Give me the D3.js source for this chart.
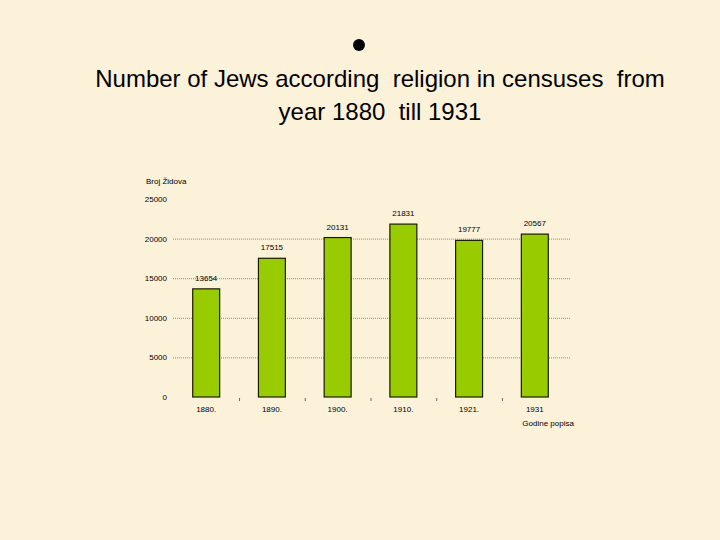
<!DOCTYPE html>
<html>
<head>
<meta charset="utf-8">
<script src="https://cdn.jsdelivr.net/npm/d3@7"></script>
<style>
  body { margin: 0; background: #fcf1d9; }
  svg { display: block; }
</style>
</head>
<body>
<div id="chart"></div>
<script>
var years = ["1880.", "1890.", "1900.", "1910.", "1921.", "1931"];
var jews = [13654, 17515, 20131, 21831, 19777, 20567];
var yTicks = [0, 5000, 10000, 15000, 20000, 25000];

var W = 720, H = 540;
var margin = { top: 199, left: 173, right: 152, bottom: 143 },
    width = W - margin.left - margin.right,
    height = H - margin.top - margin.bottom;

var svg = d3.select("#chart")
    .append("svg")
    .attr("width", W)
    .attr("height", H);

// parchment background
svg.append("rect")
    .attr("width", W).attr("height", H)
    .attr("fill", "#fcf1d9");

// bullet + title
svg.append("circle")
    .attr("cx", 359).attr("cy", 45).attr("r", 6)
    .attr("fill", "#000");

var title = svg.append("text")
    .attr("text-anchor", "middle")
    .style("font-family", "Liberation Sans, Arial, sans-serif")
    .style("font-size", "24px")
    .attr("fill", "#000");
title.append("tspan").attr("x", 380).attr("y", 87)
    .attr("xml:space", "preserve")
    .text("Number of Jews according  religion in censuses  from");
title.append("tspan").attr("x", 380).attr("y", 120)
    .attr("xml:space", "preserve")
    .text("year 1880  till 1931");

var g = svg.append("g")
    .attr("transform", "translate(" + margin.left + "," + margin.top + ")");

var x = d3.scaleBand()
    .domain(years)
    .range([0, width])
    .paddingInner(0.59)
    .paddingOuter(0.3);

var y = d3.scaleLinear()
    .domain([0, 25000])
    .range([height, 0]);

// dotted gridlines
g.selectAll(".grid")
    .data(yTicks.filter(function (d) { return d > 0 && d < 25000; }))
    .enter()
    .append("line")
    .attr("class", "grid")
    .attr("x1", 0).attr("x2", width + 3)
    .attr("y1", function (d) { return y(d) + 0.5; })
    .attr("y2", function (d) { return y(d) + 0.5; })
    .attr("stroke", "#8a8a8a")
    .attr("stroke-width", 1)
    .attr("stroke-dasharray", "1,1");

var small = { "font-family": "Liberation Sans, Arial, sans-serif", "font-size": "8px" };

// y axis labels
var yAxis = g.append("g")
    .call(d3.axisLeft(y).tickValues(yTicks).tickSize(0).tickPadding(6).tickFormat(d3.format("d")));
yAxis.select(".domain").remove();
yAxis.selectAll("text")
    .style("font-family", small["font-family"])
    .style("font-size", small["font-size"])
    .attr("fill", "#000");

// x axis labels + tiny ticks between bars
var xAxis = g.append("g")
    .attr("transform", "translate(0," + height + ")")
    .call(d3.axisBottom(x).tickSize(0).tickPadding(9));
xAxis.select(".domain").remove();
xAxis.selectAll("text")
    .style("font-family", small["font-family"])
    .style("font-size", small["font-size"])
    .attr("fill", "#000");

g.selectAll(".sep")
    .data(years.slice(1))
    .enter()
    .append("line")
    .attr("class", "sep")
    .attr("x1", function (d) { return x(d) - x.step() * x.paddingInner() / 2 + 0.5; })
    .attr("x2", function (d) { return x(d) - x.step() * x.paddingInner() / 2 + 0.5; })
    .attr("y1", height + 1).attr("y2", height + 4)
    .attr("stroke", "#666");

// bars
g.selectAll(".bar")
    .data(jews)
    .enter()
    .append("rect")
    .attr("class", "bar")
    .attr("x", function (d, i) { return x(years[i]); })
    .attr("y", function (d) { return y(d); })
    .attr("width", x.bandwidth())
    .attr("height", function (d) { return height - y(d); })
    .attr("fill", "#99cc00")
    .attr("stroke", "#1a1a00")
    .attr("stroke-width", 1.2);

// value labels
g.selectAll(".val")
    .data(jews)
    .enter()
    .append("text")
    .attr("class", "val")
    .attr("x", function (d, i) { return x(years[i]) + x.bandwidth() / 2; })
    .attr("y", function (d) { return y(d) - 8; })
    .attr("text-anchor", "middle")
    .style("font-family", small["font-family"])
    .style("font-size", small["font-size"])
    .text(function (d) { return d; });

// axis titles
g.append("text")
    .attr("x", -27).attr("y", -15)
    .style("font-family", small["font-family"])
    .style("font-size", small["font-size"])
    .text("Broj Židova");

g.append("text")
    .attr("x", x("1931") + 1).attr("y", height + 29)
    .style("font-family", small["font-family"])
    .style("font-size", small["font-size"])
    .text("Godine popisa");
</script>
</body>
</html>
